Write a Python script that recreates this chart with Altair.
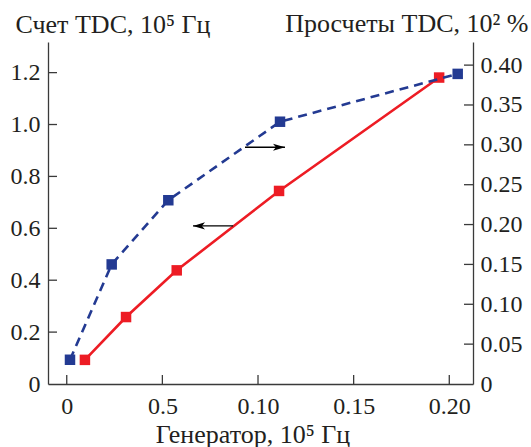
import altair as alt
import pandas as pd

# ---- data ----
red_x = [0.0095, 0.031, 0.0575, 0.111, 0.1947]
red_y = [0.093, 0.258, 0.438, 0.744, 1.181]          # left axis: Счет TDC
blue_x = [0.0017, 0.0235, 0.0531, 0.1115, 0.2044]
blue_y = [0.0304, 0.150, 0.2305, 0.329, 0.389]       # right axis: Просчеты TDC

x_ticks = [0, 0.05, 0.10, 0.15, 0.20]
x_tick_labels = ["0", "0.5", "0.10", "0.15", "0.20"]
left_ticks = [0, 0.2, 0.4, 0.6, 0.8, 1.0, 1.2]
right_ticks = [0, 0.05, 0.10, 0.15, 0.20, 0.25, 0.30, 0.35, 0.40]

# annotation arrows (data coordinates)
arrow_left_x = [0.087]
arrow_left_x2 = [0.066]
arrow_left_y = [0.609]     # left scale
arrow_right_x = [0.0932]
arrow_right_x2 = [0.1141]
arrow_right_y = [0.297]    # right scale

x_domain = [-0.0098, 0.2124]
left_domain = [0, 1.318]
right_domain = [0, 0.429]

title_x = "Генератор, 10⁵ Гц"
title_left = "Счет TDC, 10⁵ Гц"
title_right = "Просчеты TDC, 10² %"

W, H = 425, 342
FONT = "Liberation Serif"
FS = 24
TFS = 26
TXT = "#231f20"
AX = "#3a3a3a"
RED = "#ed1c24"
BLUE = "#233a92"
TICK = 9

red_df = pd.DataFrame({"x": red_x, "y": red_y})
blue_df = pd.DataFrame({"x": blue_x, "y": blue_y})
xt_df = pd.DataFrame({"x": x_ticks})
lt_df = pd.DataFrame({"y": left_ticks[1:]})
rt_df = pd.DataFrame({"y": right_ticks[1:]})
al_df = pd.DataFrame({"x": arrow_left_x, "x2": arrow_left_x2, "y": arrow_left_y})
ar_df = pd.DataFrame({"x": arrow_right_x, "x2": arrow_right_x2, "y": arrow_right_y})

xscale = alt.Scale(domain=x_domain, nice=False, zero=False)
lscale = alt.Scale(domain=left_domain, nice=False)
rscale = alt.Scale(domain=right_domain, nice=False)

label_expr = "''"
for v, lab in reversed(list(zip(x_ticks, x_tick_labels))):
    label_expr = f"abs(datum.value - {v}) < 1e-6 ? '{lab}' : ({label_expr})"

xaxis = alt.Axis(
    orient="bottom", values=x_ticks, labelExpr=label_expr, ticks=False, tickSize=0, grid=False,
    domainColor=AX, domainWidth=1.3, labelFont=FONT, labelFontSize=FS, labelColor=TXT,
    labelBaseline="alphabetic", labelPadding=29, labelFlush=False, labelOverlap=False,
    title=title_x, titleFont=FONT, titleFontSize=TFS, titleFontWeight="normal", titleColor=TXT,
    titleX=204.5, titleY=58, titleAlign="center", titleBaseline="alphabetic",
)
laxis = alt.Axis(
    orient="left", values=left_ticks,
    labelExpr="datum.value == 0 ? '0' : format(datum.value, '.1f')",
    ticks=False, tickSize=0, grid=False, domainColor=AX, domainWidth=1.3,
    labelFont=FONT, labelFontSize=FS, labelColor=TXT, labelPadding=8, labelFlush=False,
    labelOverlap=False,
    title=title_left, titleFont=FONT, titleFontSize=TFS, titleFontWeight="normal", titleColor=TXT,
    titleAngle=0, titleX=-33, titleY=-10, titleAlign="left", titleBaseline="alphabetic",
)
raxis = alt.Axis(
    orient="right", values=right_ticks,
    labelExpr="datum.value == 0 ? '0' : format(datum.value, '.2f')",
    ticks=False, tickSize=0, grid=False, domainColor=AX, domainWidth=1.3,
    labelFont=FONT, labelFontSize=FS, labelColor=TXT, labelPadding=7, labelFlush=False,
    labelOverlap=False,
    title=title_right, titleFont=FONT, titleFontSize=TFS, titleFontWeight="normal", titleColor=TXT,
    titleAngle=0, titleX=55, titleY=-11, titleAlign="right", titleBaseline="alphabetic",
)

def X(field="x"):
    return alt.X(f"{field}:Q", scale=xscale, axis=xaxis)

def YL():
    return alt.Y("y:Q", scale=lscale, axis=laxis)

def YR():
    return alt.Y("y:Q", scale=rscale, axis=raxis)

head_left = "M0,0 L2,-0.6 L1.5,0 L2,0.6 Z"
head_right = "M0,0 L-2,-0.6 L-1.5,0 L-2,0.6 Z"

# ---- left-scale group ----
red_line = alt.Chart(red_df).mark_line(color=RED, strokeWidth=2.6).encode(x=X(), y=YL())
red_pts = alt.Chart(red_df).mark_point(shape="square", filled=True, opacity=1, size=110, color=RED).encode(
    x=X(), y=YL())
lticks = alt.Chart(lt_df).mark_rule(color=AX, strokeWidth=1.3).encode(
    x=alt.value(0), x2=alt.value(TICK), y=YL())
xticks = alt.Chart(xt_df).mark_rule(color=AX, strokeWidth=1.3).encode(
    x=X(), y=alt.value(H - TICK), y2=alt.value(H))
al_line = alt.Chart(al_df).mark_rule(color="black", strokeWidth=1.3).encode(
    x=X(), x2="x2:Q", y=YL())
al_head = alt.Chart(al_df).mark_point(shape=head_left, filled=True, opacity=1, size=144, color="black").encode(
    x=X("x2"), y=YL())
left_group = alt.layer(red_line, red_pts, lticks, xticks, al_line, al_head)

# ---- right-scale group ----
blue_line = alt.Chart(blue_df).mark_line(color=BLUE, strokeWidth=2.6, strokeDash=[9, 6]).encode(x=X(), y=YR())
blue_pts = alt.Chart(blue_df).mark_point(shape="square", filled=True, opacity=1, size=110, color=BLUE).encode(
    x=X(), y=YR())
rticks = alt.Chart(rt_df).mark_rule(color=AX, strokeWidth=1.3).encode(
    x=alt.value(W - TICK), x2=alt.value(W), y=YR())
ar_line = alt.Chart(ar_df).mark_rule(color="black", strokeWidth=1.3).encode(
    x=X(), x2="x2:Q", y=YR())
ar_head = alt.Chart(ar_df).mark_point(shape=head_right, filled=True, opacity=1, size=144, color="black").encode(
    x=X("x2"), y=YR())
right_group = alt.layer(blue_line, blue_pts, rticks, ar_line, ar_head)

chart = alt.layer(left_group, right_group).resolve_scale(y="independent").properties(
    width=W, height=H,
    autosize=alt.AutoSizeParams(type="none"),
    padding={"left": 48, "top": 42, "right": 531 - 48 - W, "bottom": 447 - 42 - H},
    background="white",
).configure_view(stroke=None)

chart.save("out.html", embed_options={"renderer": "svg", "actions": False})
